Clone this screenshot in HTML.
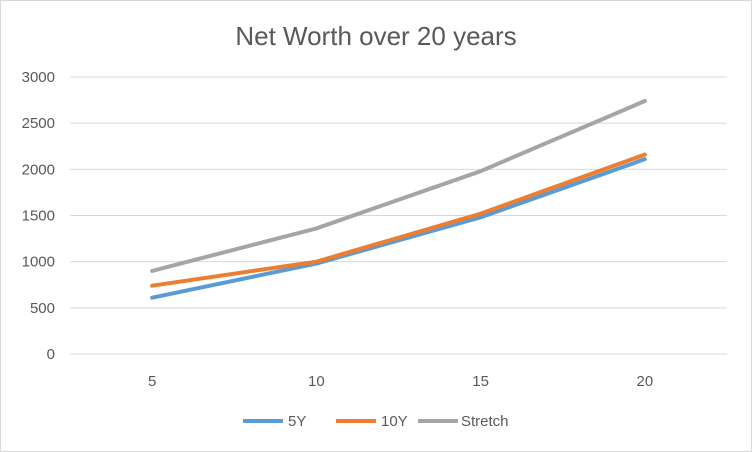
<!DOCTYPE html>
<html><head><meta charset="utf-8"><style>
body{margin:0;background:#fff}
svg{display:block;font-family:"Liberation Sans",sans-serif}
</style></head><body>
<svg id="chart" width="752" height="452">
<rect x="0.5" y="0.5" width="751" height="451" fill="#fff" stroke="#d9d9d9"/>
<text x="376" y="45" text-anchor="middle" font-size="26" fill="#595959">Net Worth over 20 years</text>
<g id="grid"></g><g id="series"></g>
<g font-size="15" fill="#595959">
<line x1="243" y1="421" x2="283" y2="421" stroke="#5b9bd5" stroke-width="4"/>
<text x="288" y="426">5Y</text>
<line x1="336" y1="421" x2="376" y2="421" stroke="#ed7d31" stroke-width="4"/>
<text x="381" y="426">10Y</text>
<line x1="418" y1="421" x2="458" y2="421" stroke="#a5a5a5" stroke-width="4"/>
<text x="461" y="426">Stretch</text>
</g>
</svg>
<script>
const categories=[5,10,15,20];
const yTicks=[0,500,1000,1500,2000,2500,3000];
const s5Y=[610,980,1480,2110];
const s10Y=[740,1000,1520,2160];
const sStretch=[900,1360,1980,2740];
const NS="http://www.w3.org/2000/svg";
const x0=70,x1=727,y0=354,y3000=77;
const xs=i=>x0+(x1-x0)*(i+0.5)/categories.length;
const ys=v=>y0-(v/3000)*(y0-y3000);
const grid=document.getElementById('grid'),ser=document.getElementById('series');
function mk(t,a,p){const e=document.createElementNS(NS,t);for(const k in a)e.setAttribute(k,a[k]);p.appendChild(e);return e;}
yTicks.forEach(v=>{
 const l=mk('line',{x1:x0,x2:x1,y1:ys(v),y2:ys(v),stroke:'#d9d9d9','stroke-width':1},grid);
 
 
 const t=mk('text',{x:55,y:ys(v)+5,'text-anchor':'end','font-size':15,fill:'#595959'},grid);
 t.textContent=v;
 
 
});
categories.forEach((c,i)=>{
 const t=mk('text',{x:xs(i),y:386,'text-anchor':'middle','font-size':15,fill:'#595959'},grid);
 t.textContent=c;
 
 
});
[[s5Y,'#5b9bd5','5y'],[s10Y,'#ed7d31','10y'],[sStretch,'#a5a5a5','stretch']].forEach(([d,c,n])=>{
 const p=mk('polyline',{points:d.map((v,i)=>xs(i)+','+ys(v)).join(' '),fill:'none',stroke:c,'stroke-width':4,'stroke-linejoin':'round','stroke-linecap':'round'},ser);
 
 
});
</script>
</body></html>
